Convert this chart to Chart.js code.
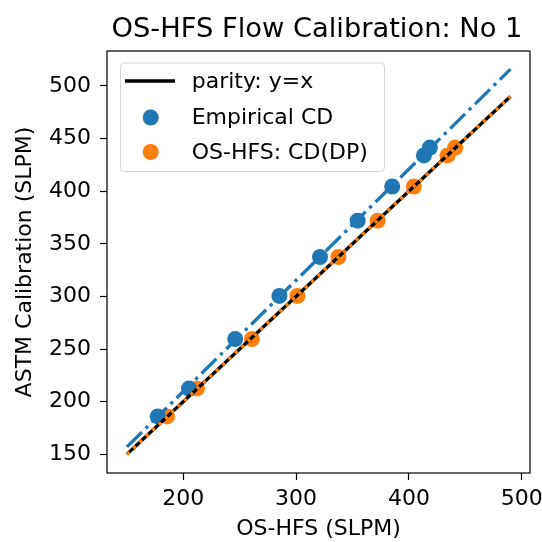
<!DOCTYPE html>
<html><head><meta charset="utf-8">
<script src="https://cdn.jsdelivr.net/npm/chart.js@4"></script>
<style>html,body{margin:0;padding:0;background:#fff}</style>
</head><body>
<canvas id="c" width="542" height="542"></canvas>
<script>
// ---- data ----
const astmCalibration = [186, 212.5, 259.5, 300.5, 337.5, 372, 404.5, 434, 441.5];
const empiricalCD     = [177.3, 205, 246, 285.2, 321.2, 354.6, 385.2, 413.3, 418.6];
const osHfsCD         = [185.6, 212.1, 260.8, 301.2, 337.5, 372.3, 404.4, 434.2, 441];
const parityX = [150, 490];
const parityY = [150, 490];
const empiricalFitX = [150, 490];
const empiricalFitY = [157, 516];
const xTicks = [200, 300, 400, 500];
const yTicks = [150, 200, 250, 300, 350, 400, 450, 500];
const titleText = 'OS-HFS Flow Calibration: No 1';
const xLabel = 'OS-HFS (SLPM)';
const yLabel = 'ASTM Calibration (SLPM)';

const BLUE = '#1f77b4', ORANGE = '#ff7f0e';
const FONT = 'DejaVu Sans';
const MARKER_R = 8;
const pts = (xs, ys) => xs.map((x, i) => ({x, y: ys[i]}));

const titlePlugin = {
  id: 'mplTitle',
  afterDraw(chart) {
    const ctx = chart.ctx, a = chart.chartArea;
    ctx.save();
    ctx.font = '27.3px "' + FONT + '"';
    ctx.fillStyle = '#000';
    ctx.textAlign = 'center';
    ctx.textBaseline = 'alphabetic';
    ctx.fillText(titleText, (a.left + a.right) / 2 - 1.5, 36.5);
    ctx.restore();
  }
};

const framePlugin = {
  id: 'frame',
  afterDatasetsDraw(chart) {
    const ctx = chart.ctx, a = chart.chartArea;
    ctx.save();
    ctx.strokeStyle = '#000';
    ctx.lineWidth = 1.2;
    ctx.strokeRect(a.left, a.top, a.right - a.left, a.bottom - a.top);
    ctx.restore();
  }
};

const legendPlugin = {
  id: 'mplLegend',
  afterDraw(chart) {
    const ctx = chart.ctx;
    const ds = chart.data.datasets;
    const entries = ds.filter(d => d.inLegend).sort((p, q) => p.legendRank - q.legendRank);
    ctx.save();
    const bx = 120.5, by = 63, bw = 264, bh = 108.5, r = 4;
    ctx.beginPath();
    ctx.roundRect(bx, by, bw, bh, r);
    ctx.fillStyle = 'rgba(255,255,255,0.8)';
    ctx.fill();
    ctx.strokeStyle = 'rgba(204,204,204,0.8)';
    ctx.lineWidth = 1;
    ctx.stroke();
    ctx.font = '22px "' + FONT + '"';
    ctx.textBaseline = 'middle';
    ctx.textAlign = 'left';
    const ys = [81, 117.5, 152];
    entries.forEach((d, i) => {
      const y = ys[i];
      if (d.showLine) {
        ctx.beginPath();
        ctx.moveTo(125, y); ctx.lineTo(175, y);
        ctx.strokeStyle = d.borderColor;
        ctx.lineWidth = 3.3;
        ctx.stroke();
      } else {
        ctx.beginPath();
        ctx.arc(150.7, y, MARKER_R, 0, Math.PI * 2);
        ctx.fillStyle = d.backgroundColor;
        ctx.fill();
      }
      ctx.fillStyle = '#000';
      ctx.fillText(d.label, 191.7, y + 1);
    });
    ctx.restore();
  }
};

new Chart(document.getElementById('c'), {
  type: 'scatter',
  data: {
    datasets: [
      { label: 'OS-HFS fit', data: pts(parityX, parityY), showLine: true, borderColor: ORANGE,
        borderWidth: 3.3, borderDash: [3.3, 5.4], pointRadius: 0, order: 0, borderCapStyle: 'butt' },
      { label: 'parity: y=x', data: pts(parityX, parityY), showLine: true, borderColor: '#000',
        borderWidth: 3.3, pointRadius: 0, order: 1, inLegend: true, legendRank: 0 },
      { label: 'Empirical fit', data: pts(empiricalFitX, empiricalFitY), showLine: true, borderColor: BLUE,
        borderWidth: 3.3, borderDash: [21, 5.3, 3.3, 5.3], pointRadius: 0, order: 1 },
      { label: 'Empirical CD', data: pts(empiricalCD, astmCalibration), backgroundColor: BLUE,
        borderColor: BLUE, pointRadius: MARKER_R, borderWidth: 0, order: 2, inLegend: true, legendRank: 1 },
      { label: 'OS-HFS: CD(DP)', data: pts(osHfsCD, astmCalibration), backgroundColor: ORANGE,
        borderColor: ORANGE, pointRadius: MARKER_R, borderWidth: 0, order: 2, inLegend: true, legendRank: 2 }
    ]
  },
  options: {
    responsive: false, animation: false, devicePixelRatio: 1,
    layout: { padding: { top: 51, right: 12, left: 0, bottom: 0 } },
    plugins: { legend: { display: false }, tooltip: { enabled: false }, title: { display: false } },
    elements: { point: { hoverRadius: MARKER_R } },
    scales: {
      x: {
        type: 'linear', min: 132.36, max: 507.36,
        afterBuildTicks: s => { s.ticks = xTicks.map(v => ({ value: v })); },
        afterFit: s => { s.height = 69; s.paddingLeft = 0; s.paddingRight = 0; },
        grid: { display: true, drawOnChartArea: false, drawTicks: true, tickLength: 7, tickWidth: 1.2, tickColor: '#000' },
        border: { display: false },
        ticks: { color: '#000', font: { family: FONT, size: 22 }, padding: 6, maxRotation: 0, autoSkip: false },
        title: { display: true, text: xLabel, color: '#000', font: { family: FONT, size: 22 }, padding: { top: 4, bottom: 0 } }
      },
      y: {
        type: 'linear', min: 132.23, max: 533.26,
        afterBuildTicks: s => { s.ticks = yTicks.map(v => ({ value: v })); },
        afterFit: s => { s.width = 107; s.paddingTop = 0; s.paddingBottom = 0; },
        grid: { display: true, drawOnChartArea: false, drawTicks: true, tickLength: 7, tickWidth: 1.2, tickColor: '#000' },
        border: { display: false },
        ticks: { color: '#000', font: { family: FONT, size: 22 }, padding: 9, autoSkip: false },
        title: { display: true, text: yLabel, color: '#000', font: { family: FONT, size: 22 }, padding: { top: 12, bottom: 0 } }
      }
    }
  },
  plugins: [framePlugin, titlePlugin, legendPlugin]
});
</script>
</body></html>
